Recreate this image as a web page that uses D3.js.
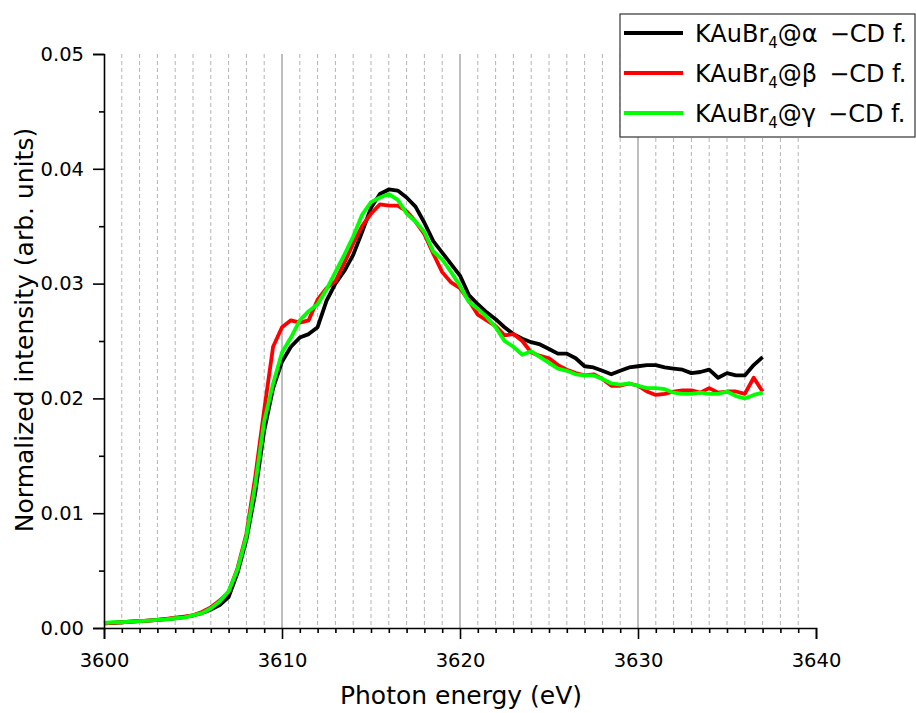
<!DOCTYPE html>
<html>
<head>
<meta charset="utf-8">
<script src="https://cdn.jsdelivr.net/npm/d3@7"></script>
<style>
  body { margin: 0; background: #fff; }
  svg { display: block; font-family: "DejaVu Sans", sans-serif; }
</style>
</head>
<body>
<div id="chart"></div>
<script>
"use strict";

// photon energy (eV)
var energy = [
  3600, 3600.5, 3601, 3601.5, 3602, 3602.5, 3603, 3603.5, 3604, 3604.5,
  3605, 3605.5, 3606, 3606.5, 3607, 3607.5, 3608, 3608.5, 3609, 3609.5,
  3610, 3610.5, 3611, 3611.5, 3612, 3612.5, 3613, 3613.5, 3614, 3614.5,
  3615, 3615.5, 3616, 3616.5, 3617, 3617.5, 3618, 3618.5, 3619, 3619.5,
  3620, 3620.5, 3621, 3621.5, 3622, 3622.5, 3623, 3623.5, 3624, 3624.5,
  3625, 3625.5, 3626, 3626.5, 3627, 3627.5, 3628, 3628.5, 3629, 3629.5,
  3630, 3630.5, 3631, 3631.5, 3632, 3632.5, 3633, 3633.5, 3634, 3634.5,
  3635, 3635.5, 3636, 3636.5, 3637
];

var alpha = [
  0.0004, 0.00045, 0.0005, 0.00055, 0.0006, 0.00065, 0.0007, 0.00078, 0.00085, 0.00095,
  0.0011, 0.0013, 0.0016, 0.0020, 0.0027, 0.0048, 0.0077, 0.0118, 0.0172, 0.0209,
  0.0232, 0.0245, 0.0253, 0.0256, 0.0262, 0.0285, 0.0300, 0.0311, 0.0325, 0.0345,
  0.0366, 0.0378, 0.0382, 0.0381, 0.0375, 0.0367, 0.0353, 0.0337, 0.0327, 0.0317,
  0.0307, 0.0290, 0.0282, 0.0275, 0.0269, 0.0262, 0.0256, 0.0252, 0.0249, 0.0247,
  0.0243, 0.0239, 0.0239, 0.0235, 0.0228, 0.0227, 0.0224, 0.0221, 0.0224, 0.0227,
  0.0228, 0.0229, 0.0229, 0.0227, 0.0226, 0.0225, 0.0222, 0.0223, 0.0225, 0.0218,
  0.0222, 0.0220, 0.0220, 0.0229, 0.0236
];

var beta = [
  0.0004, 0.00045, 0.0005, 0.00055, 0.0006, 0.00065, 0.0007, 0.0008, 0.0009, 0.0010,
  0.0011, 0.0014, 0.0018, 0.0024, 0.0031, 0.0052, 0.0082, 0.0132, 0.0190, 0.0245,
  0.0262, 0.0268, 0.0266, 0.0268, 0.0286, 0.0296, 0.0302, 0.0318, 0.0335, 0.0350,
  0.0361, 0.0369, 0.0368, 0.0368, 0.0363, 0.0354, 0.0343, 0.0326, 0.0310, 0.0301,
  0.0296, 0.0285, 0.0273, 0.0268, 0.0263, 0.0255, 0.0256, 0.0250, 0.0240, 0.0237,
  0.0235, 0.0229, 0.0225, 0.0222, 0.0220, 0.0221, 0.0217, 0.0211, 0.0211, 0.0213,
  0.0211, 0.0206, 0.0203, 0.0204, 0.0206, 0.0207, 0.0207, 0.0205, 0.0209, 0.0205,
  0.0206, 0.0206, 0.0204, 0.0218, 0.0206
];

var gamma = [
  0.00045, 0.0005, 0.0005, 0.00055, 0.0006, 0.00065, 0.0007, 0.00075, 0.00085, 0.0009,
  0.0011, 0.0013, 0.0017, 0.0023, 0.0032, 0.0051, 0.0080, 0.0125, 0.0180, 0.0213,
  0.0240, 0.0253, 0.0268, 0.0276, 0.0282, 0.0295, 0.0310, 0.0325, 0.0341, 0.0360,
  0.0371, 0.0375, 0.0378, 0.0373, 0.0361, 0.0354, 0.0345, 0.0328, 0.0321, 0.0310,
  0.0298, 0.0284, 0.0278, 0.0271, 0.0262, 0.0250, 0.0245, 0.0238, 0.0241, 0.0236,
  0.0231, 0.0226, 0.0224, 0.0221, 0.0220, 0.0220, 0.0217, 0.0213, 0.0212, 0.0213,
  0.0211, 0.0209, 0.0209, 0.0208, 0.0205, 0.0204, 0.0204, 0.0205, 0.0204, 0.0204,
  0.0206, 0.0202, 0.0200, 0.0203, 0.0205
];

var seriesNames = ["α", "β", "γ"];
var seriesColors = ["#000000", "#ff0000", "#00ff00"];

var xMajorTicks = [3600, 3610, 3620, 3630, 3640];
var yMajorTicks = [0, 0.01, 0.02, 0.03, 0.04, 0.05];

// == boilerplate ==
var W = 916, H = 713;
var margin = { top: 54, right: 100, bottom: 85, left: 104 };

var svg = d3.select("#chart").append("svg")
  .attr("width", W).attr("height", H);

var g = svg.append("g")
  .attr("transform", "translate(" + margin.left + "," + margin.top + ")");

var x = d3.scaleLinear().domain([3600, 3640]).range([0, 712]);
var y = d3.scaleLinear().domain([0, 0.05]).range([574, 0]);

var minorX = d3.range(3601, 3640).filter(function (v) { return v % 10 !== 0; });

// vertical grid: dashed at each eV, solid at the inner majors
g.selectAll(".gminor").data(minorX).enter().append("line")
  .attr("x1", d => x(d)).attr("x2", d => x(d))
  .attr("y1", 0).attr("y2", y(0))
  .attr("stroke", "#b4b4b4").attr("stroke-width", 1)
  .attr("stroke-dasharray", "4,3");

g.selectAll(".gmajor").data([3610, 3620, 3630]).enter().append("line")
  .attr("x1", d => x(d)).attr("x2", d => x(d))
  .attr("y1", 0).attr("y2", y(0))
  .attr("stroke", "#7f7f7f").attr("stroke-width", 1);

// series (green drawn last, on top)
var allSeries = [alpha, beta, gamma];
var line = d3.line()
  .x(function (d, i) { return x(energy[i]); })
  .y(function (d) { return y(d); });

allSeries.forEach(function (s, k) {
  g.append("path")
    .datum(s)
    .attr("fill", "none")
    .attr("stroke", seriesColors[k])
    .attr("stroke-width", 3.8)
    .attr("stroke-linejoin", "round")
    .attr("d", line);
});

// axes
g.append("g").attr("transform", "translate(0," + y(0) + ")")
  .call(d3.axisBottom(x).tickValues(xMajorTicks).tickFormat(d3.format("d"))
    .tickSize(11).tickPadding(14));
var xMinor = g.append("g").attr("transform", "translate(0," + y(0) + ")")
  .call(d3.axisBottom(x).tickValues(minorX).tickSize(5).tickFormat(""));
xMinor.select(".domain").remove();

g.append("g")
  .call(d3.axisLeft(y).tickValues(yMajorTicks).tickFormat(d3.format(".2f"))
    .tickSize(11).tickPadding(9));
var yMinor = g.append("g")
  .call(d3.axisLeft(y).tickValues([0.005, 0.015, 0.025, 0.035, 0.045])
    .tickSize(5).tickFormat(""));
yMinor.select(".domain").remove();

g.selectAll(".domain").attr("stroke", "#000").attr("stroke-width", 1.6);
g.selectAll(".tick line").attr("stroke", "#000").attr("stroke-width", 1.6);
g.selectAll(".tick text").attr("font-size", 19.5).attr("fill", "#000")
  .attr("font-family", "DejaVu Sans, sans-serif");

// axis titles
svg.append("text")
  .attr("x", margin.left + x(3620) + 1).attr("y", 704)
  .attr("text-anchor", "middle").attr("font-size", 25)
  .text("Photon energy (eV)");

svg.append("text")
  .attr("transform", "translate(33," + (margin.top + 276) + ") rotate(-90)")
  .attr("text-anchor", "middle").attr("font-size", 25)
  .text("Normalized intensity (arb. units)");

// legend
var leg = svg.append("g").attr("transform", "translate(620,14)");
leg.append("rect")
  .attr("width", 295).attr("height", 123)
  .attr("fill", "#fff").attr("stroke", "#333").attr("stroke-width", 1.2);

seriesNames.forEach(function (nm, k) {
  var row = leg.append("g").attr("transform", "translate(0," + (19 + k * 40) + ")");
  row.append("line")
    .attr("x1", 4).attr("x2", 63)
    .attr("stroke", seriesColors[k]).attr("stroke-width", 3.8);
  var t = row.append("text").attr("x", 75).attr("y", 9)
    .attr("font-size", 24).attr("fill", "#000");
  t.append("tspan").text("KAuBr");
  t.append("tspan").attr("font-size", 15).attr("dy", 6).text("4");
  t.append("tspan").attr("dy", -6).text("@" + nm + "\u2002\u2212CD f.");
});
</script>
</body>
</html>
